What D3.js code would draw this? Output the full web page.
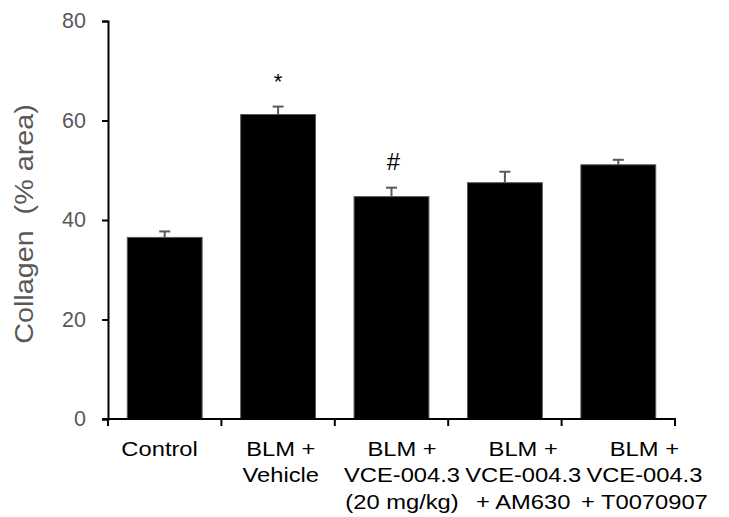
<!DOCTYPE html>
<html>
<head>
<meta charset="utf-8">
<script src="https://cdn.jsdelivr.net/npm/d3@7"></script>
<style>
  body { margin: 0; background: #fff; }
  svg { display: block; font-family: "Liberation Sans", Arial, sans-serif; }
</style>
</head>
<body>
<div id="chart"></div>
<script>
var width = 729,
    height = 517;

// data
var categories = ["Control", "BLM + Vehicle", "BLM + VCE (20)", "BLM + VCE + AM630", "BLM + VCE + T0070907"];
var labelLines = [
  ["Control"],
  ["BLM +", "Vehicle"],
  ["BLM +", "VCE-004.3", "(20 mg/kg)"],
  ["BLM +", "VCE-004.3", "+ AM630"],
  ["BLM +", "VCE-004.3", "+ T0070907"]
];
var means = [36.5, 61.2, 44.7, 47.5, 51.1];
var sems = [1.2, 1.6, 1.8, 2.2, 1.0];
var marks = ["", "*", "#", "", ""];
var yTicks = [0, 20, 40, 60, 80];

var svg = d3.select("#chart").append("svg")
    .attr("width", width)
    .attr("height", height);

var x = d3.scaleBand()
    .domain(categories)
    .range([108, 675])
    .paddingInner(0.34)
    .paddingOuter(0.17);

// the wrapped labels sit a bit wider apart than the bars in the original
var xLabel = d3.scaleBand()
    .domain(categories)
    .range([99, 705]);

var y = d3.scaleLinear()
    .domain([0, 80])
    .range([419, 21]);

var grey = "#595959";

// bars
svg.selectAll("rect.bar")
    .data(means)
    .enter().append("rect")
    .attr("class", "bar")
    .attr("x", function(d, i) { return x(categories[i]); })
    .attr("y", function(d) { return y(d); })
    .attr("width", x.bandwidth())
    .attr("height", function(d) { return y(0) - y(d); })
    .attr("fill", "#000")
    .attr("stroke", grey)
    .attr("stroke-width", 1);

// error bars (upper only)
var err = svg.append("g")
    .attr("stroke", grey)
    .attr("stroke-width", 2);

means.forEach(function(d, i) {
  var cx = x(categories[i]) + x.bandwidth() / 2;
  err.append("line")
      .attr("x1", cx).attr("x2", cx)
      .attr("y1", y(d)).attr("y2", y(d + sems[i]));
  err.append("line")
      .attr("x1", cx - 5.5).attr("x2", cx + 5.5)
      .attr("y1", y(d + sems[i])).attr("y2", y(d + sems[i]));
});

// significance marks
svg.selectAll("text.sig")
    .data(marks)
    .enter().append("text")
    .attr("class", "sig")
    .attr("x", function(d, i) { return x(categories[i]) + x.bandwidth() / 2 + (d == "#" ? 2 : 0); })
    .attr("y", function(d, i) { return y(means[i] + sems[i]) - (d == "*" ? 18 : 18); })
    .attr("text-anchor", "middle")
    .attr("font-size", function(d) { return d == "*" ? "22px" : "24px"; })
    .attr("fill", "#000")
    .text(function(d) { return d; });

// y axis
var yAxis = svg.append("g")
    .attr("transform", "translate(108,0)")
    .call(d3.axisLeft(y).tickValues(yTicks).tickSize(6).tickSizeOuter(6).tickPadding(16));
yAxis.select(".domain").attr("stroke", "#000").attr("stroke-width", 2);
yAxis.selectAll(".tick line").attr("stroke", "#000").attr("stroke-width", 2);
yAxis.selectAll(".tick text")
    .attr("fill", grey)
    .attr("font-size", "21.5px")
    .attr("font-family", "Liberation Sans, Arial, sans-serif");

// x axis: line with ticks on band boundaries
var step = x.step(),
    gap = step * x.paddingInner() / 2;
var bounds = categories.map(function(c) { return x(c) - gap; });
bounds.push(x(categories[categories.length - 1]) + x.bandwidth() + gap);

var xAxis = svg.append("g").attr("stroke", "#000").attr("stroke-width", 2);
xAxis.append("line")
    .attr("x1", 102).attr("x2", bounds[bounds.length - 1] + 1)
    .attr("y1", y(0)).attr("y2", y(0));
bounds.forEach(function(b) {
  xAxis.append("line")
      .attr("x1", b).attr("x2", b)
      .attr("y1", y(0)).attr("y2", y(0) + 7);
});

// category labels (slightly wide face in the original, so stretch a little)
var labels = svg.selectAll("text.cat")
    .data(categories)
    .enter().append("text")
    .attr("class", "cat")
    .attr("text-anchor", "middle")
    .attr("font-size", "21px")
    .attr("fill", "#000")
    .attr("transform", function(d) {
      return "translate(" + (xLabel(d) + xLabel.bandwidth() / 2) + ",456) scale(1.13,1)";
    });

labels.each(function(d, i) {
  var t = d3.select(this);
  labelLines[i].forEach(function(line, j) {
    t.append("tspan")
        .attr("x", 0)
        .attr("y", j * 26.5)
        .text(line);
  });
});

// y axis title
svg.append("text")
    .attr("transform", "translate(33,224) rotate(-90) scale(1.15,1)")
    .attr("text-anchor", "middle")
    .attr("font-size", "25px")
    .attr("fill", grey)
    .style("white-space", "pre")
    .text("Collagen  (% area)");
</script>
</body>
</html>
